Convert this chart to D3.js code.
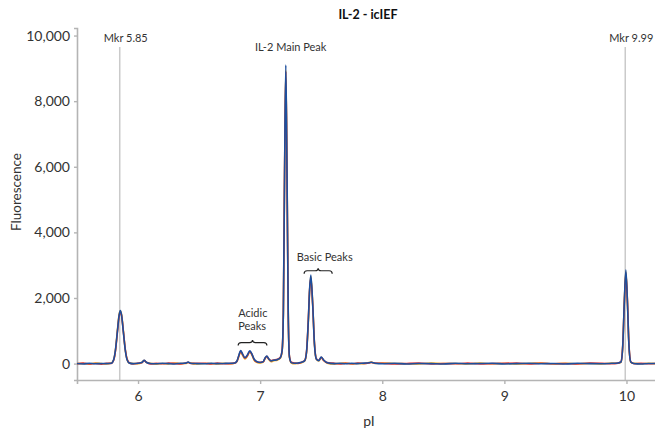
<!DOCTYPE html>
<html>
<head>
<meta charset="utf-8">
<script src="https://cdn.jsdelivr.net/npm/d3@7"></script>
<style>
  html, body { margin: 0; padding: 0; background: #fff; }
  svg { display: block; font-family: Lato, "Open Sans", sans-serif; }
</style>
</head>
<body>
<svg id="chart" width="655" height="430"></svg>
<script>
// Electropherogram samples: isoelectric point (pI) and fluorescence for three replicate runs
const pI = [
  5.50, 5.55, 5.60, 5.65, 5.70, 5.74, 5.78, 5.80, 5.815, 5.83,
  5.845, 5.855, 5.865, 5.88, 5.895, 5.91, 5.93, 5.96, 6.00, 6.03,
  6.05, 6.07, 6.10, 6.15, 6.20, 6.25, 6.30, 6.35, 6.39, 6.41,
  6.43, 6.48, 6.55, 6.60, 6.65, 6.70, 6.75, 6.79, 6.81, 6.825,
  6.84, 6.855, 6.875, 6.895, 6.915, 6.93, 6.95, 6.975, 7.00, 7.025,
  7.04, 7.055, 7.07, 7.09, 7.11, 7.14, 7.165, 7.18, 7.19, 7.20,
  7.21, 7.22, 7.23, 7.24, 7.255, 7.28, 7.31, 7.34, 7.365, 7.38,
  7.395, 7.405, 7.415, 7.43, 7.445, 7.46, 7.48, 7.50, 7.52, 7.55,
  7.60, 7.65, 7.70, 7.75, 7.80, 7.85, 7.89, 7.91, 7.94, 8.00,
  8.10, 8.20, 8.30, 8.40, 8.50, 8.60, 8.70, 8.80, 8.90, 9.00,
  9.10, 9.20, 9.30, 9.40, 9.50, 9.60, 9.70, 9.80, 9.88, 9.93,
  9.955, 9.97, 9.982, 9.995, 10.008, 10.02, 10.035, 10.06, 10.12, 10.18,
  10.25
];

const fluorBlue = [
  5, -10, 10, -5, 5, 0, 10, 120, 420, 950,
  1480, 1620, 1480, 950, 420, 120, 15, 0, 10, 30,
  100, 35, 5, -5, 10, 0, -10, 10, 15, 45,
  10, 0, -5, 10, 0, 5, 10, 20, 80, 250,
  400, 300, 180, 260, 390, 310, 140, 55, 35, 60,
  170, 230, 150, 80, 100, 120, 180, 400, 1550, 5800,
  9100, 5800, 1550, 200, 30, 10, 20, 40, 90, 360,
  1350, 2270, 2700, 1830, 570, 140, 90, 200, 110, 25,
  0, 10, -5, 10, 0, 15, 25, 40, 10, -5,
  10, -10, 5, 0, -10, 10, -5, 5, 10, -10,
  0, 10, -5, 5, -10, 10, 0, -5, 10, 20,
  50, 570, 1850, 2850, 1850, 570, 50, 5, -10, 5,
  0
];

const fluorRed = [
  -5, 15, -10, 5, -15, 10, 5, 100, 390, 920,
  1440, 1570, 1460, 970, 450, 140, 20, -10, 15, 25,
  90, 40, -10, 10, -5, 15, 5, -10, 20, 40,
  5, 10, 10, -10, 15, -5, 0, 15, 70, 230,
  380, 290, 170, 240, 370, 300, 130, 50, 40, 55,
  160, 220, 140, 90, 110, 130, 190, 420, 1600, 5900,
  8900, 5700, 1500, 220, 40, 20, 5, 45, 95, 380,
  1400, 2250, 2600, 1800, 600, 150, 100, 190, 100, 30,
  15, -10, 10, -5, 15, 5, 20, 35, 15, 10,
  -10, 5, 15, -10, 5, -5, 15, -10, 0, 10,
  15, -10, 10, -5, 5, -10, 15, 10, -5, 15,
  60, 600, 1800, 2750, 1900, 600, 60, -5, 10, -5,
  10
];

const fluorOrange = [
  0, 5, -15, 15, 0, -10, 15, 110, 400, 980,
  1500, 1600, 1500, 990, 430, 130, 10, 5, -5, 35,
  95, 30, 10, -15, 5, -10, 15, 0, 5, 35,
  15, -10, 5, 0, -10, 10, -5, 10, 60, 210,
  350, 260, 140, 220, 350, 280, 110, 35, 20, 45,
  150, 210, 130, 60, 85, 105, 160, 380, 1500, 5700,
  8950, 5900, 1600, 190, 20, -5, 15, 30, 80, 340,
  1300, 2200, 2650, 1850, 590, 130, 80, 180, 95, 15,
  -10, 5, 15, -10, 5, -5, 30, 45, 5, 15,
  5, -5, -10, 15, 0, 5, -10, 15, -5, 5,
  -10, 5, 15, -10, 10, -5, 5, -10, 15, 10,
  40, 540, 1820, 2800, 1880, 590, 40, 10, -5, 10,
  -5
];

const xTicks = [6, 7, 8, 9, 10];
const yTicks = [0, 2000, 4000, 6000, 8000, 10000];
const markerLabels = ["Mkr 5.85", "Mkr 9.99"];
const markerPI = [5.85, 9.99];

const svg = d3.select("#chart");
const x = d3.scaleLinear().domain([5.5, 10.25]).range([77, 657]);
const y = d3.scaleLinear().domain([-500, 10230]).range([380, 28]);

const axisColor = "#b4b4b4";
const textColor = "#333";

// Title
svg.append("text")
  .attr("x", 368).attr("y", 19)
  .attr("text-anchor", "middle")
  .attr("font-size", 12.5).attr("font-weight", 700)
  .attr("fill", "#111")
  .text("IL-2 - icIEF");

// Marker reference lines and labels
markerPI.forEach((m, i) => {
  svg.append("line")
    .attr("x1", x(m)).attr("x2", x(m))
    .attr("y1", 47).attr("y2", 380)
    .attr("stroke", "#cacaca").attr("stroke-width", 1.5);
  svg.append("text")
    .attr("x", x(m) + 6).attr("y", 42)
    .attr("text-anchor", "middle")
    .attr("font-size", 11).attr("fill", textColor)
    .text(markerLabels[i]);
});

// Axes
const yAxis = svg.append("g")
  .attr("transform", "translate(77,0)")
  .call(d3.axisLeft(y).tickValues(yTicks).tickFormat(d3.format(",")).tickSize(3).tickPadding(4));
const xAxis = svg.append("g")
  .attr("transform", "translate(0,380)")
  .call(d3.axisBottom(x).tickValues(xTicks).tickFormat(d3.format("d")).tickSize(4).tickPadding(7));
[yAxis, xAxis].forEach(g => {
  g.select(".domain").attr("stroke", axisColor).attr("stroke-width", 1.6);
  g.selectAll(".tick line").attr("stroke", axisColor).attr("stroke-width", 1.4);
  g.selectAll(".tick text").attr("fill", textColor).attr("font-size", 14)
    .attr("font-family", "Lato, 'Open Sans', sans-serif");
});

// Axis titles
svg.append("text")
  .attr("transform", "translate(21,192) rotate(-90)")
  .attr("text-anchor", "middle")
  .attr("font-size", 13.5).attr("fill", textColor)
  .text("Fluorescence");
svg.append("text")
  .attr("x", 369).attr("y", 426)
  .attr("text-anchor", "middle")
  .attr("font-size", 14).attr("fill", textColor)
  .text("pI");

// Traces (replicates drawn underneath, primary run on top)
const runs = [
  { values: fluorOrange, color: "#f2a51e" },
  { values: fluorRed, color: "#d8383a" },
  { values: fluorBlue, color: "#1d4f9d" }
];
const line = d3.line()
  .x(d => x(d[0]))
  .y(d => y(d[1]))
  .curve(d3.curveMonotoneX);
runs.forEach(r => {
  svg.append("path")
    .datum(pI.map((p, i) => [p, r.values[i]]))
    .attr("fill", "none")
    .attr("stroke", r.color)
    .attr("stroke-width", 1.6)
    .attr("stroke-linejoin", "round")
    .attr("d", line);
});

// Peak annotations
function brace(x0, x1, yv) {
  const ya = y(yv), xa = x(x0), xb = x(x1), xc = (xa + xb) / 2;
  const p = d3.path();
  p.moveTo(xa, ya + 3);
  p.quadraticCurveTo(xa, ya, xa + 3, ya);
  p.lineTo(xc - 3, ya);
  p.quadraticCurveTo(xc, ya, xc, ya - 2.5);
  p.quadraticCurveTo(xc, ya, xc + 3, ya);
  p.lineTo(xb - 3, ya);
  p.quadraticCurveTo(xb, ya, xb, ya + 3);
  svg.append("path").attr("d", p.toString())
    .attr("fill", "none").attr("stroke", "#222").attr("stroke-width", 1.2);
}

svg.append("text")
  .attr("x", x(7.25)).attr("y", y(9520))
  .attr("text-anchor", "middle")
  .attr("font-size", 11).attr("fill", textColor)
  .text("IL-2 Main Peak");

const acidic = svg.append("text")
  .attr("font-size", 11).attr("fill", textColor);
acidic.append("tspan").attr("x", x(6.82)).attr("y", y(1420)).text("Acidic");
acidic.append("tspan").attr("x", x(6.82)).attr("y", y(1030)).text("Peaks");
brace(6.82, 7.055, 640);

svg.append("text")
  .attr("x", x(7.3)).attr("y", y(3130))
  .attr("font-size", 11).attr("fill", textColor)
  .text("Basic Peaks");
brace(7.36, 7.59, 2830);
</script>
</body>
</html>
